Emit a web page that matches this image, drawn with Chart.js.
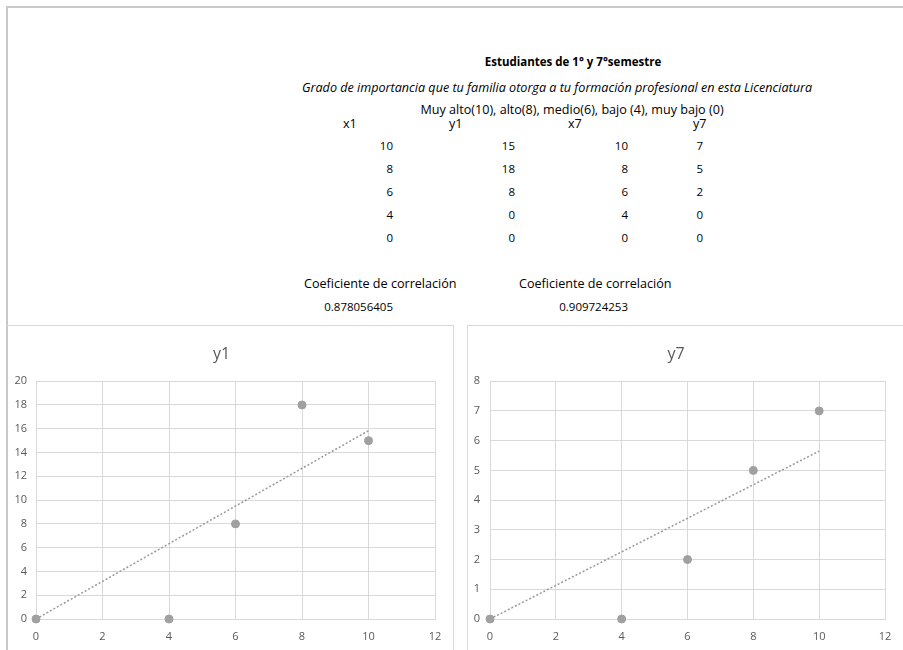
<!DOCTYPE html>
<html>
<head>
<meta charset="utf-8">
<script src="https://cdn.jsdelivr.net/npm/chart.js@4"></script>
<style>
    body { margin: 0; background: #fff; width: 903px; height: 650px; overflow: hidden; position: relative;
           font-family: 'Open Sans', sans-serif; color: #000; }
    .frame-top { position: absolute; left: 6px; top: 6px; width: 897px; height: 2px; background: #c8c8c8; }
    .frame-left { position: absolute; left: 6px; top: 6px; width: 2px; height: 644px; background: #c8c8c8; }
    .panel { position: absolute; border: 1px solid #d9d9d9; }
    .t { position: absolute; font-size: 12.6px; line-height: 16px; white-space: nowrap; }
    .n { font-size: 11.5px; }
    .c { transform: translateX(-50%); }
    .r { transform: translateX(-100%); }
    canvas { position: absolute; }
</style>
</head>
<body>
<div class="frame-top"></div>
<div class="frame-left"></div>
<div class="panel" style="left:7px; top:325px; width:446px; height:340px; border-left:none;"></div>
<div class="panel" style="left:467px; top:325px; width:440px; height:340px;"></div>
<div id="sheet"></div>
<canvas id="chartY1" width="446" height="324" style="left:8px; top:326px;"></canvas>
<canvas id="chartY7" width="436" height="324" style="left:467px; top:326px;"></canvas>
<script>
    const titre = 'Estudiantes de 1° y 7°semestre';
    const question = 'Grado de importancia que tu familia otorga a tu formación profesional en esta Licenciatura';
    const echelle = 'Muy alto(10), alto(8), medio(6), bajo (4), muy bajo (0)';
    const entetes = ['x1', 'y1', 'x7', 'y7'];
    const x1 = [10, 8, 6, 4, 0];
    const y1 = [15, 18, 8, 0, 0];
    const x7 = [10, 8, 6, 4, 0];
    const y7 = [7, 5, 2, 0, 0];
    const labelCorrel = 'Coeficiente de correlación';
    const correl1 = '0.878056405';
    const correl7 = '0.909724253';
    const xTicks = [0, 2, 4, 6, 8, 10, 12];

    const gris = '#595959';
    const grille = '#d9d9d9';
    const point = '#a0a0a0';

    // Texte de la feuille de calcul
    const sheet = document.getElementById('sheet');
    function addText(txt, x, y, cls, style) {
        const d = document.createElement('div');
        d.className = 't ' + (cls || '');
        d.textContent = txt;
        d.style.left = x + 'px';
        d.style.top = (y - 8) + 'px';
        if (style) d.style.cssText += style;
        sheet.appendChild(d);
    }
    addText(titre, 573, 62, 'c', 'font-weight:bold; font-size:11.5px;');
    addText(question, 557, 88, 'c', 'font-style:italic;');
    addText(echelle, 572, 110, 'c');

    const colHead = [343, 449, 568, 693];
    entetes.forEach((h, i) => addText(h, colHead[i], 124));
    const colRight = [393, 515, 628, 703];
    const cols = [x1, y1, x7, y7];
    const rowY = [146, 169, 192, 215, 238];
    cols.forEach((col, c) => {
        col.forEach((v, r) => addText(String(v), colRight[c], rowY[r], 'r n'));
    });
    addText(labelCorrel, 304, 284);
    addText(labelCorrel, 519, 284);
    addText(correl1, 393, 307, 'r n');
    addText(correl7, 628, 307, 'r n');

    // Tendance linéaire passant par l'origine (comme Excel, ordonnée fixée à 0)
    function trendThroughOrigin(xs, ys) {
        let sxy = 0, sxx = 0;
        xs.forEach((x, i) => { sxy += x * ys[i]; sxx += x * x; });
        const pente = sxy / sxx;
        const xMin = Math.min(...xs), xMax = Math.max(...xs);
        return [{ x: xMin, y: pente * xMin }, { x: xMax, y: pente * xMax }];
    }

    function createScatter(canvasId, titleText, xs, ys, yMax, yStep, yWidth, yPad, padRight) {
        const pts = xs.map((x, i) => ({ x: x, y: ys[i] }));
        return new Chart(document.getElementById(canvasId), {
            type: 'scatter',
            data: {
                datasets: [{
                    data: pts,
                    backgroundColor: point,
                    borderColor: point,
                    pointRadius: 4,
                    clip: false,
                    order: 1
                }, {
                    type: 'line',
                    data: trendThroughOrigin(xs, ys),
                    borderColor: '#999999',
                    borderWidth: 1.5,
                    borderDash: [2, 2],
                    pointRadius: 0,
                    fill: false,
                    clip: false,
                    order: 2
                }]
            },
            options: {
                responsive: false,
                animation: false,
                layout: { padding: { left: 0, right: padRight, top: 0, bottom: 0 } },
                plugins: {
                    legend: { display: false },
                    tooltip: { enabled: false },
                    title: {
                        display: true,
                        text: titleText,
                        color: gris,
                        font: { family: 'Open Sans', size: 16, weight: 'normal' },
                        padding: { top: 19, bottom: 17 }
                    }
                },
                scales: {
                    x: {
                        type: 'linear',
                        min: 0,
                        max: 12,
                        afterBuildTicks: axis => { axis.ticks = xTicks.map(v => ({ value: v })); },
                        afterFit: axis => { axis.height = 31; },
                        grid: { color: grille, drawTicks: false },
                        border: { color: grille },
                        ticks: { color: gris, padding: 11, maxRotation: 0, font: { family: 'Open Sans', size: 11 } }
                    },
                    y: {
                        min: 0,
                        max: yMax,
                        afterFit: axis => { axis.width = yWidth; },
                        grid: { color: grille, drawTicks: false },
                        border: { color: grille },
                        ticks: { stepSize: yStep, color: gris, padding: yPad, font: { family: 'Open Sans', size: 11 } }
                    }
                }
            }
        });
    }

    createScatter('chartY1', 'y1', x1, y1, 20, 2, 28, 9, 19);
    createScatter('chartY7', 'y7', x7, y7, 8, 1, 23, 10, 18);
</script>
</body>
</html>
